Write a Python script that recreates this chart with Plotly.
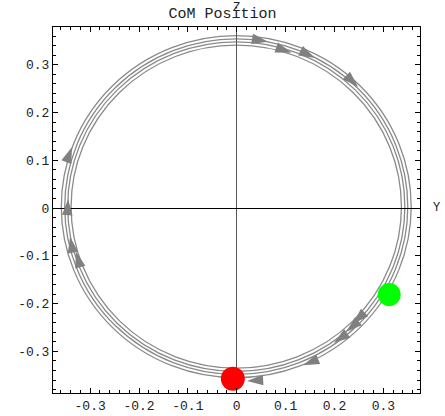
import numpy as np
import plotly.graph_objects as go

# ---- data ----
# concentric loops of the trajectory (centre Y, centre Z, radius)
loop_center_y = [-0.001, -0.001, -0.001, -0.001]
loop_center_z = [0.003, 0.003, 0.003, 0.003]
loop_radius = [0.338, 0.345, 0.351, 0.358]

# arrow heads along the path (tip positions), motion is clockwise
arrow_y = [0.064, 0.112, 0.160, 0.248, -0.337, -0.345, -0.341, -0.329,
           0.238, 0.224, 0.199, 0.136, 0.021]
arrow_z = [0.348, 0.325, 0.314, 0.254, 0.128, 0.019, -0.060, -0.091,
           -0.242, -0.259, -0.282, -0.329, -0.362]

start_point = (0.312, -0.181)   # green
end_point = (-0.008, -0.357)    # red

x_ticks = [-0.3, -0.2, -0.1, 0, 0.1, 0.2, 0.3]
x_ticktext = ["-0.3", "-0.2", "-0.1", "0", "0.1", "0.2", "0.3"]
y_ticks = [-0.3, -0.2, -0.1, 0, 0.1, 0.2, 0.3]
y_ticktext = ["-0.3", "-0.2", "-0.1", "0", "0.1", "0.2", "0.3"]

FONT = "Liberation Mono"
GRAY = "#8a8a8a"

fig = go.Figure()

shapes = []
for cy, cz, r in zip(loop_center_y, loop_center_z, loop_radius):
    shapes.append(dict(type="circle", xref="x", yref="y",
                       x0=cy - r, x1=cy + r, y0=cz - r, y1=cz + r,
                       line=dict(color=GRAY, width=1.3), layer="below"))

# arrowheads oriented along clockwise tangent
ay = np.array(arrow_y)
az = np.array(arrow_z)
angles = np.degrees(np.arctan2(az, -ay))
fig.add_trace(go.Scatter(
    x=arrow_y, y=arrow_z, mode="markers", cliponaxis=False,
    marker=dict(symbol="arrow", size=17, color="#808080", angle=angles,
                line=dict(width=0)),
    hoverinfo="skip", showlegend=False))

fig.add_trace(go.Scatter(
    x=[start_point[0]], y=[start_point[1]], mode="markers", cliponaxis=False,
    marker=dict(size=23, color="#00ff00", line=dict(width=0)),
    showlegend=False))
fig.add_trace(go.Scatter(
    x=[end_point[0]], y=[end_point[1]], mode="markers", cliponaxis=False,
    marker=dict(size=24, color="#ff0000", line=dict(width=0)),
    showlegend=False))

axis_common = dict(
    showgrid=False, ticks="inside", ticklen=5, tickcolor="black",
    showline=True, linecolor="black", linewidth=1, mirror="ticks",
    automargin=False,
    tickfont=dict(family=FONT, size=13, color="#222"),
    minor=dict(ticks="inside", ticklen=3, dtick=0.02, tickcolor="black"),
)

fig.update_xaxes(range=[-0.376, 0.375], tickvals=x_ticks, ticktext=x_ticktext,
                 zeroline=True, zerolinecolor="#555", zerolinewidth=1,
                 **axis_common)
fig.update_yaxes(range=[-0.387, 0.379], tickvals=y_ticks, ticktext=y_ticktext,
                 zeroline=True, zerolinecolor="black", zerolinewidth=1,
                 **axis_common)

fig.update_layout(
    width=445, height=416,
    margin=dict(l=53, r=25, t=27, b=23, autoexpand=False),
    paper_bgcolor="white", plot_bgcolor="white",
    shapes=shapes,
    title=dict(text="CoM Position", x=0.5, xanchor="center",
               y=1 - 13 / 416, yanchor="middle",
               font=dict(family=FONT, size=15, color="#222")),
    annotations=[
        dict(text="Z", x=0, xref="x", y=1, yref="paper", yanchor="middle",
             yshift=19, showarrow=False, font=dict(family=FONT, size=12, color="#222")),
        dict(text="Y", x=1, xref="paper", y=0, yref="y", xanchor="center",
             xshift=16, showarrow=False, font=dict(family=FONT, size=12, color="#222")),
    ],
)

fig.write_html("out.html", config={"displayModeBar": False},
               post_script="document.body.style.margin='0';document.body.style.overflow='hidden';")
